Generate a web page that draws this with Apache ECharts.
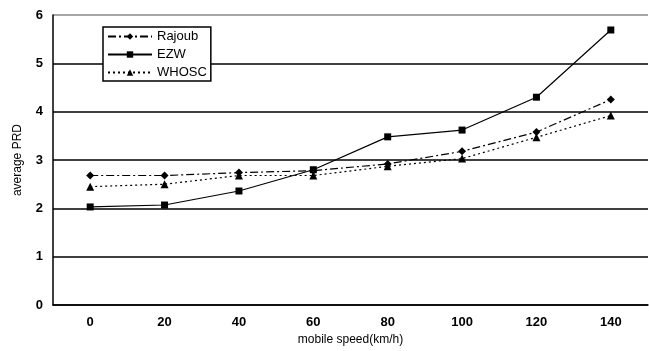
<!DOCTYPE html>
<html>
<head>
<meta charset="utf-8">
<script src="https://cdn.jsdelivr.net/npm/echarts@6/dist/echarts.min.js"></script>
<style>
  html, body { margin: 0; padding: 0; background: #fff; }
  #chart { width: 649px; height: 351px; }
</style>
</head>
<body>
<div id="chart"></div>
<script>
// mobile speed categories (km/h)
var speeds = ["0", "20", "40", "60", "80", "100", "120", "140"];
// average PRD per method
var rajoub = [2.68, 2.68, 2.74, 2.78, 2.92, 3.18, 3.58, 4.25];
var ezw = [2.03, 2.07, 2.36, 2.8, 3.48, 3.62, 4.3, 5.69];
var whosc = [2.45, 2.5, 2.68, 2.68, 2.87, 3.03, 3.47, 3.92];

var chart = echarts.init(document.getElementById("chart"));
var font = "Liberation Sans, Arial, sans-serif";

var option = {
  animation: false,
  grid: { left: 53, right: 1, top: 15, bottom: 42 },
  legend: {
    orient: "vertical",
    left: 103,
    top: 27,
    itemGap: 5,
    itemWidth: 44,
    itemHeight: 8,
    padding: [3, 4, 2, 4],
    borderColor: "#000",
    borderWidth: 1.5,
    backgroundColor: "#fff",
    textStyle: { color: "#000", fontFamily: font, fontSize: 13 },
    data: ["Rajoub", "EZW", "WHOSC"]
  },
  xAxis: {
    type: "category",
    data: speeds,
    name: "mobile speed(km/h)",
    nameLocation: "middle",
    nameGap: 28,
    nameTextStyle: { color: "#000", fontFamily: font, fontSize: 12 },
    axisLine: { lineStyle: { color: "#000", width: 1.5 } },
    axisTick: { inside: true, length: 3, lineStyle: { color: "#000" } },
    axisLabel: { color: "#000", fontFamily: font, fontSize: 13, fontWeight: "bold", margin: 11 }
  },
  yAxis: {
    type: "value",
    min: 0,
    max: 6,
    interval: 1,
    name: "average PRD",
    nameLocation: "middle",
    nameGap: 29,
    nameTextStyle: { color: "#000", fontFamily: font, fontSize: 12 },
    axisLine: { show: true, lineStyle: { color: "#000", width: 1.5 } },
    axisTick: { show: false },
    axisLabel: { color: "#000", fontFamily: font, fontSize: 13, fontWeight: "bold", margin: 10 },
    splitLine: {
      lineStyle: {
        color: ["#000", "#000", "#000", "#000", "#000", "#000", "#888"],
        width: 1.5
      }
    }
  },
  series: [
    {
      name: "Rajoub",
      type: "line",
      data: rajoub,
      symbol: "diamond",
      symbolSize: 8,
      itemStyle: { color: "#000" },
      lineStyle: { color: "#000", width: 1.2, type: [8, 3, 2, 3] }
    },
    {
      name: "EZW",
      type: "line",
      data: ezw,
      symbol: "rect",
      symbolSize: 7,
      itemStyle: { color: "#000" },
      lineStyle: { color: "#000", width: 1.2, type: "solid" }
    },
    {
      name: "WHOSC",
      type: "line",
      data: whosc,
      symbol: "triangle",
      symbolSize: 8,
      itemStyle: { color: "#000" },
      lineStyle: { color: "#000", width: 1.2, type: [2, 3] }
    }
  ]
};

chart.setOption(option);
</script>
</body>
</html>
